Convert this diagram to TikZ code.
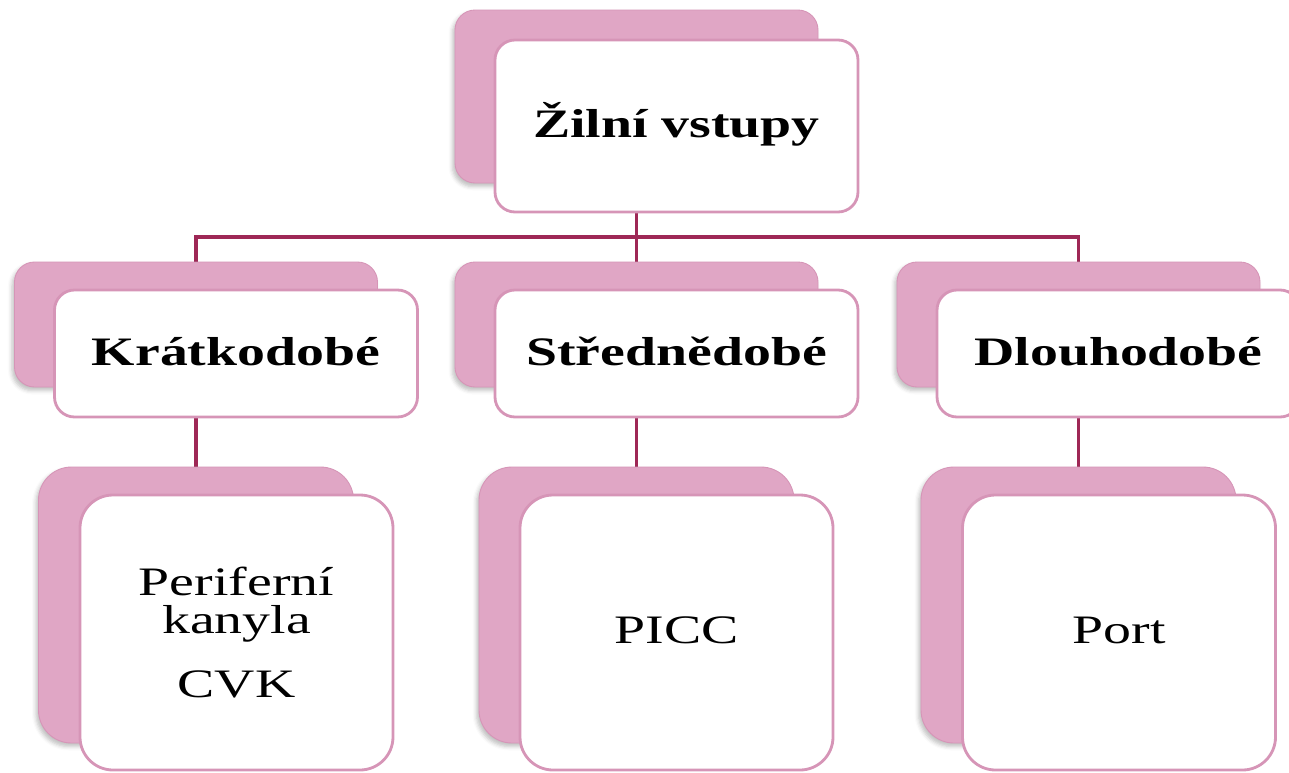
\documentclass[tikz,border=0pt]{standalone}
\usepackage{fontspec}
\setmainfont{Liberation Serif}[FakeStretch=1.38]
\usepackage{tikz}
\usetikzlibrary{positioning,backgrounds,shadows.blur}
\definecolor{cardpink}{RGB}{224,166,197}
\definecolor{rimpink}{RGB}{214,149,183}
\definecolor{linkred}{RGB}{158,40,86}

\begin{document}
\begin{tikzpicture}
[font=\fontsize{23}{22}\selectfont,
% STYLES
% The card style is the pink card lying behind each box
card/.style={rectangle, rounded corners=0.4cm, fill=cardpink, draw=rimpink, line width=0.5pt, inner sep=0pt, minimum width=7.26cm, minimum height=2.5cm,
  blur shadow={shadow xshift=-0.05cm, shadow yshift=-0.07cm, shadow blur radius=0.08cm, shadow opacity=25}},
% The headbox style is used to draw the names of the groups
headbox/.style={rectangle, rounded corners=0.4cm, fill=white, draw=rimpink, line width=1.6pt, inner sep=0pt, minimum width=7.26cm, minimum height=2.54cm,
  text height=0.46cm, text depth=0cm, font=\fontsize{23}{22}\selectfont\bfseries},
% The leafcard and leafbox styles are used for the bottom row
leafcard/.style={card, rounded corners=0.66cm, minimum width=6.3cm, minimum height=5.52cm},
leafbox/.style={rectangle, rounded corners=0.66cm, fill=white, draw=rimpink, line width=1.6pt, inner sep=0pt, minimum width=6.26cm, minimum height=5.5cm, align=center},
% The link style is used for the lines between the boxes
link/.style={draw=linkred, line width=2pt}]

\useasboundingbox (0,0) rectangle (25.78,-15.44);

% Draw the top box
\node [card, minimum height=3.46cm] (zilni-card) at (12.73,-1.93) {};
\node [headbox, minimum height=3.44cm] (zilni) at (13.53,-2.52) {Žilní vstupy};

% Draw the groups
\node [card] (kratko-card) at (3.92,-6.49) {};
\node [headbox] (kratko) at (4.72,-7.07) {Krátkodobé};
\node [card] (stred-card) at (12.73,-6.49) {};
\node [headbox] (stred) at (13.53,-7.07) {Střednědobé};
\node [card] (dlouho-card) at (21.57,-6.49) {};
\node [headbox] (dlouho) at (22.37,-7.07) {Dlouhodobé};

%%%%%%%%%%%%%%%
% Bottom row

% kratko
\node [leafcard] (perif-card) at (3.92,-12.1) {};
\node [leafbox] (perif) at (4.73,-12.65) {Periferní\\kanyla\\[0.5cm]CVK};

% stred
\node [leafcard] (picc-card) at (12.73,-12.1) {};
\node [leafbox, text height=0.44cm, text depth=0cm] (picc) at (13.53,-12.65) {PICC};

% dlouho
\node [leafcard] (port-card) at (21.57,-12.1) {};
\node [leafbox, text height=0.44cm, text depth=0cm] (port) at (22.38,-12.65) {Port};

%%%%%%%%%%%%%%%

% Draw the links between the boxes
\coordinate (bar) at (0,-4.74);
\begin{scope}[on background layer]
\path[link] (zilni-card.south) -- (stred-card.north);
\path[link] (kratko-card.north) -- (kratko-card.north |- bar) -- (dlouho-card.north |- bar) -- (dlouho-card.north);
\path[link]
(kratko-card.south) edge (perif-card.north)
(stred-card.south) edge (picc-card.north)
(dlouho-card.south) edge (port-card.north);
\end{scope}

\end{tikzpicture}
\end{document}
